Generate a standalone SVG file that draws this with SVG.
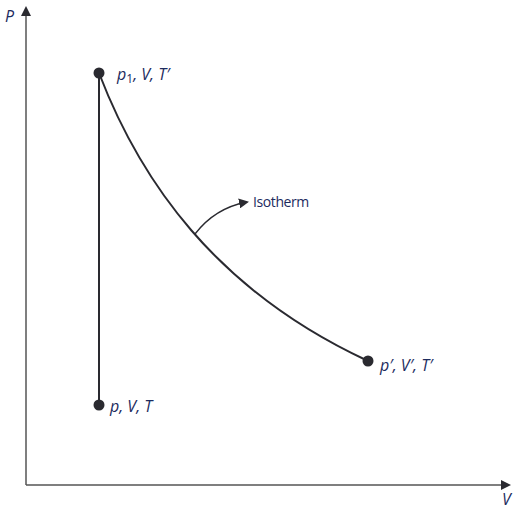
<svg xmlns="http://www.w3.org/2000/svg" width="529" height="516" viewBox="0 0 529 516">
<defs>
<style>
.axis{stroke:#555;stroke-width:1.5;fill:none}
.line{stroke:#2a2a30;stroke-width:2;fill:none}
.lbl{font-family:"Open Sans","DejaVu Sans",sans-serif;font-style:italic;font-size:16px;fill:#1c2b5e}
.iso{font-family:"Open Sans","DejaVu Sans",sans-serif;font-size:14px;fill:#1c2b5e;letter-spacing:-0.4px}
.dot{fill:#2a2a30}
</style>
<marker id="ah" markerWidth="10" markerHeight="10" refX="8" refY="5" orient="auto" markerUnits="userSpaceOnUse">
<path d="M0,0 L10,5 L0,10 Z" fill="#2a2a30"/>
</marker>
</defs>
<g id="connectors">
<line class="axis" x1="26" y1="485" x2="26" y2="8" marker-end="url(#ah)"/>
<line class="axis" x1="26" y1="485" x2="509" y2="485" marker-end="url(#ah)"/>
<line class="line" x1="99" y1="73" x2="99" y2="405"/>
<path class="line" d="M99,73 C140,180 215,290 368,361"/>
<path d="M195,234 Q215,208 247,202" stroke="#2a2a30" stroke-width="1.3" fill="none" marker-end="url(#ah)"/>
</g>
<g id="axis-p"><text class="lbl" x="5" y="22">P</text></g>
<g id="axis-v"><text class="lbl" x="502" y="505">V</text></g>
<g id="state1"><circle class="dot" cx="99" cy="73" r="5.5"/><text class="lbl" x="117" y="80">p<tspan font-style="normal" font-size="12" dy="3">1</tspan><tspan dy="-3">, V, T′</tspan></text></g>
<g id="state2"><circle class="dot" cx="368" cy="361" r="5.5"/><text class="lbl" x="380" y="371">p′, V′, T′</text></g>
<g id="state0"><circle class="dot" cx="99" cy="405" r="5.5"/><text class="lbl" x="110" y="412">p, V, T</text></g>
<g id="isotherm"><text class="iso" x="253" y="207">Isotherm</text></g>
</svg>
